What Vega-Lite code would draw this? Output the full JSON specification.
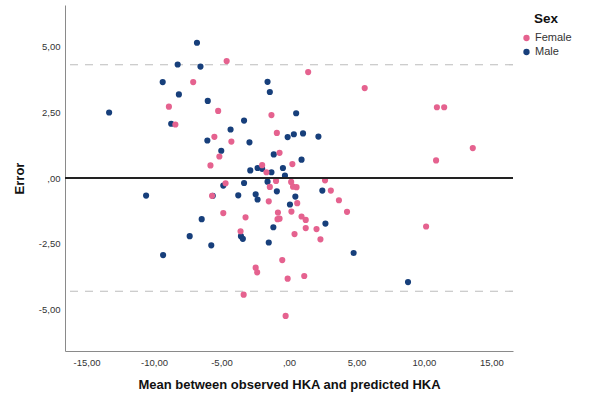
{
  "$schema": "https://vega.github.io/schema/vega-lite/v6.json",
  "width": 448,
  "height": 346,
  "autosize": {"type": "none"},
  "padding": {"left": 65, "top": 5, "right": 92, "bottom": 54},
  "background": "white",
  "config": {
    "view": {"stroke": null},
    "font": "Liberation Sans",
    "axis": {"domainColor": "#8a8a8a", "domainWidth": 1, "ticks": false, "grid": false, "labelColor": "#333333", "labelFontSize": 9.5, "titleColor": "#111111", "titleFontSize": 13, "titleFontWeight": "bold"}
  },
  "datasets": {
    "points": [
      {"sex": "Male", "mean": -6.82, "error": 5.16},
      {"sex": "Male", "mean": -8.25, "error": 4.33},
      {"sex": "Male", "mean": -6.56, "error": 4.25},
      {"sex": "Male", "mean": -9.36, "error": 3.66},
      {"sex": "Male", "mean": -8.16, "error": 3.19},
      {"sex": "Male", "mean": -1.59, "error": 3.67},
      {"sex": "Male", "mean": -1.42, "error": 3.28},
      {"sex": "Male", "mean": -6.02, "error": 2.94},
      {"sex": "Male", "mean": -13.33, "error": 2.5},
      {"sex": "Male", "mean": 0.53, "error": 2.47},
      {"sex": "Male", "mean": -8.73, "error": 2.07},
      {"sex": "Male", "mean": -3.33, "error": 2.19},
      {"sex": "Male", "mean": -4.33, "error": 1.85},
      {"sex": "Male", "mean": -6.05, "error": 1.43},
      {"sex": "Male", "mean": -2.93, "error": 1.36},
      {"sex": "Male", "mean": -5.02, "error": 1.04},
      {"sex": "Male", "mean": -0.1, "error": 1.56},
      {"sex": "Male", "mean": 0.36, "error": 1.67},
      {"sex": "Male", "mean": 1.04, "error": 1.7},
      {"sex": "Male", "mean": 2.18, "error": 1.58},
      {"sex": "Male", "mean": -1.13, "error": 0.9},
      {"sex": "Male", "mean": 0.93, "error": 0.7},
      {"sex": "Male", "mean": -2.87, "error": 0.29},
      {"sex": "Male", "mean": -2.33, "error": 0.38},
      {"sex": "Male", "mean": -1.99, "error": 0.35},
      {"sex": "Male", "mean": -1.3, "error": 0.22},
      {"sex": "Male", "mean": -0.45, "error": 0.38},
      {"sex": "Male", "mean": -0.3, "error": 0.09},
      {"sex": "Male", "mean": -1.59, "error": -0.14},
      {"sex": "Male", "mean": -3.33, "error": -0.19},
      {"sex": "Male", "mean": -4.87, "error": -0.29},
      {"sex": "Male", "mean": -0.9, "error": -0.51},
      {"sex": "Male", "mean": 2.47, "error": -0.48},
      {"sex": "Male", "mean": -10.59, "error": -0.67},
      {"sex": "Male", "mean": -5.65, "error": -0.68},
      {"sex": "Male", "mean": -3.76, "error": -0.66},
      {"sex": "Male", "mean": -2.47, "error": -0.62},
      {"sex": "Male", "mean": -2.33, "error": -0.82},
      {"sex": "Male", "mean": 0.47, "error": -0.71},
      {"sex": "Male", "mean": 0.07, "error": -1.01},
      {"sex": "Male", "mean": -6.47, "error": -1.57},
      {"sex": "Male", "mean": 2.7, "error": -1.74},
      {"sex": "Male", "mean": -1.16, "error": -1.88},
      {"sex": "Male", "mean": -7.36, "error": -2.22},
      {"sex": "Male", "mean": -3.56, "error": -2.22},
      {"sex": "Male", "mean": -3.42, "error": -2.32},
      {"sex": "Male", "mean": -1.5, "error": -2.46},
      {"sex": "Male", "mean": -5.76, "error": -2.57},
      {"sex": "Male", "mean": -9.33, "error": -2.94},
      {"sex": "Male", "mean": 4.79, "error": -2.86},
      {"sex": "Male", "mean": 8.82, "error": -3.97},
      {"sex": "Female", "mean": -4.62, "error": 4.46},
      {"sex": "Female", "mean": 1.42, "error": 4.04},
      {"sex": "Female", "mean": -7.1, "error": 3.66},
      {"sex": "Female", "mean": 5.61, "error": 3.43},
      {"sex": "Female", "mean": -8.9, "error": 2.72},
      {"sex": "Female", "mean": -5.25, "error": 2.56},
      {"sex": "Female", "mean": 10.96, "error": 2.7},
      {"sex": "Female", "mean": 11.5, "error": 2.7},
      {"sex": "Female", "mean": -1.3, "error": 2.4},
      {"sex": "Female", "mean": -8.42, "error": 2.04},
      {"sex": "Female", "mean": -5.53, "error": 1.57},
      {"sex": "Female", "mean": -4.27, "error": 1.39},
      {"sex": "Female", "mean": -0.9, "error": 1.72},
      {"sex": "Female", "mean": 13.62, "error": 1.14},
      {"sex": "Female", "mean": -0.7, "error": 0.96},
      {"sex": "Female", "mean": -5.16, "error": 0.82},
      {"sex": "Female", "mean": 10.9, "error": 0.67},
      {"sex": "Female", "mean": -5.82, "error": 0.48},
      {"sex": "Female", "mean": 0.25, "error": 0.53},
      {"sex": "Female", "mean": -1.99, "error": 0.49},
      {"sex": "Female", "mean": -1.67, "error": 0.22},
      {"sex": "Female", "mean": -4.7, "error": -0.2},
      {"sex": "Female", "mean": -0.96, "error": -0.11},
      {"sex": "Female", "mean": 0.16, "error": -0.15},
      {"sex": "Female", "mean": 2.67, "error": -0.09},
      {"sex": "Female", "mean": -1.42, "error": -0.34},
      {"sex": "Female", "mean": 0.3, "error": -0.33},
      {"sex": "Female", "mean": 0.56, "error": -0.35},
      {"sex": "Female", "mean": 3.1, "error": -0.48},
      {"sex": "Female", "mean": -5.7, "error": -0.68},
      {"sex": "Female", "mean": -1.5, "error": -0.89},
      {"sex": "Female", "mean": 0.61, "error": -0.96},
      {"sex": "Female", "mean": 3.7, "error": -0.85},
      {"sex": "Female", "mean": -4.87, "error": -1.34},
      {"sex": "Female", "mean": -0.82, "error": -1.32},
      {"sex": "Female", "mean": 0.18, "error": -1.28},
      {"sex": "Female", "mean": 4.3, "error": -1.29},
      {"sex": "Female", "mean": -3.22, "error": -1.5},
      {"sex": "Female", "mean": -0.85, "error": -1.57},
      {"sex": "Female", "mean": -0.7, "error": -1.55},
      {"sex": "Female", "mean": 0.93, "error": -1.47},
      {"sex": "Female", "mean": 1.24, "error": -1.6},
      {"sex": "Female", "mean": 1.24, "error": -1.91},
      {"sex": "Female", "mean": 2.04, "error": -1.95},
      {"sex": "Female", "mean": 10.16, "error": -1.85},
      {"sex": "Female", "mean": -3.59, "error": -2.03},
      {"sex": "Female", "mean": 0.41, "error": -2.14},
      {"sex": "Female", "mean": 2.33, "error": -2.34},
      {"sex": "Female", "mean": -0.5, "error": -3.13},
      {"sex": "Female", "mean": -2.47, "error": -3.42},
      {"sex": "Female", "mean": -2.36, "error": -3.6},
      {"sex": "Female", "mean": -0.1, "error": -3.84},
      {"sex": "Female", "mean": 1.13, "error": -3.74},
      {"sex": "Female", "mean": -3.36, "error": -4.45},
      {"sex": "Female", "mean": -0.25, "error": -5.26}
    ],
    "limits": [{"error": 4.32}, {"error": -4.32}],
    "zero": [{"error": 0}]
  },
  "layer": [
    {
      "data": {"name": "limits"},
      "mark": {"type": "rule", "color": "#bdbdbd", "strokeWidth": 1.2, "strokeDash": [8, 7]},
      "encoding": {"y": {"field": "error", "type": "quantitative", "scale": {"domain": [-6.6, 6.6], "nice": false, "zero": false}}}
    },
    {
      "data": {"name": "points"},
      "mark": {"type": "point", "filled": true, "opacity": 1, "size": 38, "shape": "circle"},
      "encoding": {
        "x": {
          "field": "mean", "type": "quantitative",
          "title": "Mean between observed HKA and predicted HKA",
          "scale": {"domain": [-16.6, 16.6], "nice": false, "zero": false},
          "axis": {"values": [-15, -10, -5, 0, 5, 10, 15], "labelPadding": 6, "titlePadding": 12,
                   "labelExpr": "datum.value == 0 ? ',00' : (datum.value < 0 ? '-' : '') + replace(format(abs(datum.value), '.2f'), '.', ',')"}
        },
        "y": {
          "field": "error", "type": "quantitative", "title": "Error",
          "scale": {"domain": [-6.6, 6.6], "nice": false, "zero": false},
          "axis": {"values": [-5, -2.5, 0, 2.5, 5], "labelPadding": 5, "titlePadding": 12,
                   "labelExpr": "datum.value == 0 ? ',00' : (datum.value < 0 ? '-' : '') + replace(format(abs(datum.value), '.2f'), '.', ',')"}
        },
        "color": {
          "field": "sex", "type": "nominal", "title": "Sex",
          "scale": {"domain": ["Female", "Male"], "range": ["#e5628f", "#173f7b"]},
          "legend": {"orient": "none", "legendX": 456, "legendY": 7, "titleAnchor": "middle", "titleFontSize": 13.5, "titleFontWeight": "bold", "titleColor": "#111111", "labelFontSize": 11, "labelColor": "#333333", "symbolSize": 40, "symbolType": "circle", "rowPadding": 2, "titlePadding": 7, "labelOffset": 3}
        }
      }
    },
    {
      "data": {"name": "zero"},
      "mark": {"type": "rule", "color": "#222222", "strokeWidth": 2},
      "encoding": {"y": {"field": "error", "type": "quantitative"}}
    }
  ]
}
